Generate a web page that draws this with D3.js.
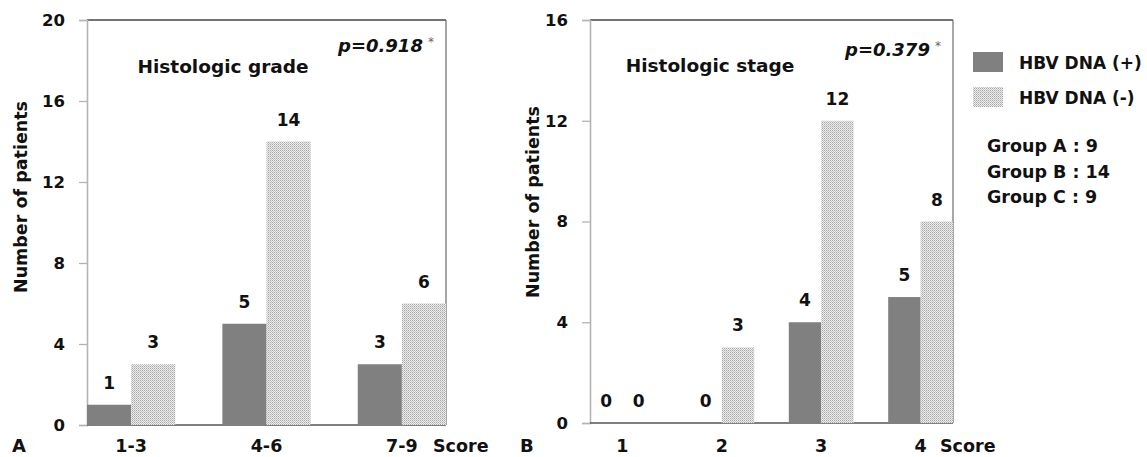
<!DOCTYPE html>
<html>
<head>
<meta charset="utf-8">
<script src="https://cdn.jsdelivr.net/npm/d3@7"></script>
<style>
  html, body { margin: 0; padding: 0; background: #fff; }
  svg { display: block; }
  text { font-family: "DejaVu Sans", sans-serif; font-weight: 700; fill: #111; }
</style>
</head>
<body>
<svg id="chart" width="1147" height="457"></svg>
<script>
// ---------- data ----------
const seriesNames = ["HBV DNA (+)", "HBV DNA (-)"];
const gradeCategories = ["1-3", "4-6", "7-9"];
const gradePositive = [1, 5, 3];
const gradeNegative = [3, 14, 6];
const gradeTicks = [0, 4, 8, 12, 16, 20];
const stageCategories = ["1", "2", "3", "4"];
const stagePositive = [0, 0, 4, 5];
const stageNegative = [0, 3, 12, 8];
const stageTicks = [0, 4, 8, 12, 16];
const groupLabels = ["Group A : 9", "Group B : 14", "Group C : 9"];

// ---------- drawing ----------
const svg = d3.select("#chart");
const defs = svg.append("defs");
const pat = defs.append("pattern").attr("id", "dots")
  .attr("patternUnits", "userSpaceOnUse").attr("width", 2).attr("height", 2);
pat.append("rect").attr("width", 2).attr("height", 2).attr("fill", "#ececec");
pat.append("rect").attr("x", 0).attr("y", 0).attr("width", 1).attr("height", 1).attr("fill", "#a8a8a8");
pat.append("rect").attr("x", 1).attr("y", 1).attr("width", 1).attr("height", 1).attr("fill", "#c4c4c4");

const fills = ["#808080", "url(#dots)"];

function drawPanel(o) {
  const g = svg.append("g");
  const y = d3.scaleLinear().domain([0, o.yMax]).range([o.bottom, o.top]);
  const x = d3.scaleBand().domain(o.categories).range([o.left, o.right])
    .paddingInner(0.348).paddingOuter(0).align(0);
  const xs = d3.scaleBand().domain([0, 1]).range([0, x.bandwidth()]).padding(0);

  // frame: top & right
  g.append("line").attr("x1", o.left).attr("x2", o.right).attr("y1", o.top).attr("y2", o.top)
    .attr("stroke", "#444").attr("stroke-width", 1.3);
  g.append("line").attr("x1", o.right).attr("x2", o.right).attr("y1", o.top).attr("y2", o.bottom)
    .attr("stroke", "#777").attr("stroke-width", 1.3);

  // y axis
  const ya = g.append("g").attr("transform", `translate(${o.left},0)`)
    .call(d3.axisLeft(y).tickValues(o.ticks).tickSize(8).tickPadding(14).tickFormat(d3.format("d")));
  ya.select(".domain").attr("stroke", "#b4b4b4").attr("stroke-width", 1.6);
  ya.selectAll(".tick line").attr("stroke", "#b4b4b4").attr("stroke-width", 1.3);
  ya.selectAll(".tick text").attr("font-size", 16.5).attr("font-family", null).attr("fill", "#111");

  // x baseline
  g.append("line").attr("x1", o.left).attr("x2", o.right).attr("y1", y(0)).attr("y2", y(0))
    .attr("stroke", "#555").attr("stroke-width", 1.3);

  // bars
  const series = [o.positive, o.negative];
  series.forEach((vals, si) => {
    g.selectAll(null).data(o.categories).enter().append("rect")
      .attr("x", (c) => x(c) + xs(si))
      .attr("width", xs.bandwidth())
      .attr("y", (c, i) => y(vals[i]))
      .attr("height", (c, i) => y(0) - y(vals[i]))
      .attr("fill", fills[si]);
    g.selectAll(null).data(o.categories).enter().append("text")
      .attr("x", (c) => x(c) + xs(si) + xs.bandwidth() / 2)
      .attr("y", (c, i) => y(vals[i]) - 16)
      .attr("text-anchor", "middle").attr("font-size", 17)
      .text((c, i) => vals[i]);
  });

  // x labels
  g.selectAll(null).data(o.categories).enter().append("text")
    .attr("x", (c) => x(c) + x.bandwidth() / 2)
    .attr("y", 452).attr("text-anchor", "middle").attr("font-size", 17.5)
    .text((c) => c);
  g.append("text").attr("x", o.scoreX).attr("y", 452).attr("font-size", 17.5).text("Score");
  g.append("text").attr("x", o.letterX).attr("y", 452).attr("font-size", 18).text(o.letter);

  // y title
  g.append("text").attr("transform", `translate(${o.yTitleX},${o.yTitleY}) rotate(-90)`)
    .attr("text-anchor", "middle").attr("dy", "0.35em").attr("font-size", 17.5)
    .text("Number of patients");

  // panel title
  g.append("text").attr("x", o.titleX).attr("y", o.titleY).attr("text-anchor", "middle")
    .attr("font-size", 18.5).text(o.title);

  // p value
  const pt = g.append("text").attr("x", o.pX).attr("y", o.pY).attr("font-size", 18)
    .attr("font-style", "italic");
  pt.append("tspan").text(o.p);
  pt.append("tspan").attr("dx", 5).attr("dy", -6).attr("font-size", 12)
    .attr("font-weight", 400).attr("font-style", "normal").attr("fill", "#666").text("*");
}

drawPanel({
  categories: gradeCategories, positive: gradePositive, negative: gradeNegative,
  ticks: gradeTicks, yMax: 20,
  left: 87, right: 446, top: 20, bottom: 425,
  scoreX: 433, letterX: 12, letter: "A",
  yTitleX: 21, yTitleY: 197,
  title: "Histologic grade", titleX: 223, titleY: 73,
  p: "p=0.918", pX: 338, pY: 52
});

drawPanel({
  categories: stageCategories, positive: stagePositive, negative: stageNegative,
  ticks: stageTicks, yMax: 16,
  left: 590, right: 953, top: 20, bottom: 423,
  scoreX: 940, letterX: 520, letter: "B",
  yTitleX: 533, yTitleY: 202,
  title: "Histologic stage", titleX: 710, titleY: 72,
  p: "p=0.379", pX: 845, pY: 56
});

// legend
const lg = svg.append("g");
const legendY = [52, 87];
seriesNames.forEach((name, i) => {
  lg.append("rect").attr("x", 973).attr("y", legendY[i]).attr("width", 30).attr("height", 20)
    .attr("fill", fills[i]);
  lg.append("text").attr("x", 1019).attr("y", legendY[i] + 17).attr("font-size", 17).text(name);
});
const groupY = [152, 178, 203];
groupLabels.forEach((t, i) => {
  lg.append("text").attr("x", 987).attr("y", groupY[i]).attr("font-size", 17.5).text(t);
});
</script>
</body>
</html>
